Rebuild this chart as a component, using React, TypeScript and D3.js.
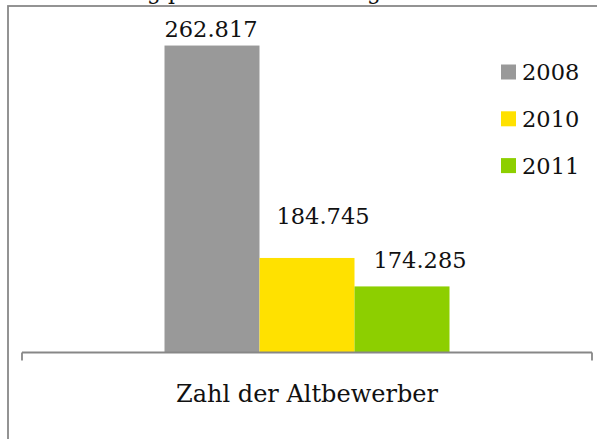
import React from "react";
import * as d3 from "d3";

const categories = ["Zahl der Altbewerber"];
const seriesNames = ["2008", "2010", "2011"];
const values2008 = [262.817];
const values2010 = [184.745];
const values2011 = [174.285];
const seriesColors = ["#999999", "#FFE100", "#8DCF00"];
const valueLabels = ["262.817", "184.745", "174.285"];
const titleHead = "Entwicklung";
const titleTail = " prozentual im Vergleich";

// manual label offsets (dx, gap above bar top)
const labelDx = [-1, 16, 18];
const labelGap = [9, 34, 18];

const W = 597;
const H = 439;
const FONT = "'DejaVu Serif', serif";

export default function App() {
  const series = [values2008, values2010, values2011];
  const baseY = 352.5;
  const x0 = d3.scaleBand<string>().domain(categories).range([22, 592]).paddingInner(0).paddingOuter(0.5);
  const x1 = d3.scaleBand<string>().domain(seriesNames).range([0, x0.bandwidth()]).padding(0);
  const y = d3.scaleLinear().domain([150, 270]).range([baseY, 26]);
  const axisGray = "#878787";

  return (
    <svg width={W} height={H} style={{ position: "absolute", left: 0, top: 0, background: "#fff" }} fontFamily={FONT}>
      <rect x={0} y={0} width={W} height={H} fill="#fff" />
      <text x={161} y={-1} fontSize={22} textAnchor="end" fill="#111">{titleHead}</text>
      <text x={161} y={-1} fontSize={22} fill="#111" style={{ whiteSpace: "pre" }}>{titleTail}</text>
      <rect x={8} y={6} width={W + 50} height={H + 50} fill="none" stroke="#888" strokeWidth={1.8} />
      {categories.map((c, ci) => (
        <g key={c} transform={`translate(${x0(c)},0)`}>
          {seriesNames.map((s, si) => {
            const v = series[si][ci];
            const bx = x1(s)!;
            const top = y(v);
            return (
              <g key={s}>
                <rect x={bx} y={top} width={x1.bandwidth()} height={baseY - top} fill={seriesColors[si]} />
                <text
                  x={bx + x1.bandwidth() / 2 + labelDx[si]}
                  y={top - labelGap[si]}
                  fontSize={22.5}
                  textAnchor="middle"
                  fill="#111"
                >
                  {valueLabels[si]}
                </text>
              </g>
            );
          })}
        </g>
      ))}
      <line x1={22} x2={592} y1={baseY} y2={baseY} stroke={axisGray} strokeWidth={1.8} />
      <line x1={22} x2={22} y1={baseY} y2={baseY + 8} stroke={axisGray} strokeWidth={1.8} />
      <line x1={592} x2={592} y1={baseY} y2={baseY + 8} stroke={axisGray} strokeWidth={1.8} />
      {categories.map((c) => (
        <text key={c} x={x0(c)! + x0.bandwidth() / 2} y={402} fontSize={24} textAnchor="middle" fill="#111">
          {c}
        </text>
      ))}
      {seriesNames.map((s, i) => {
        const cy = 72 + i * 46.8;
        return (
          <g key={s}>
            <rect x={501} y={cy - 7.5} width={15} height={15} fill={seriesColors[i]} />
            <text x={522} y={cy + 8} fontSize={22.5} fill="#111">{s}</text>
          </g>
        );
      })}
    </svg>
  );
}
